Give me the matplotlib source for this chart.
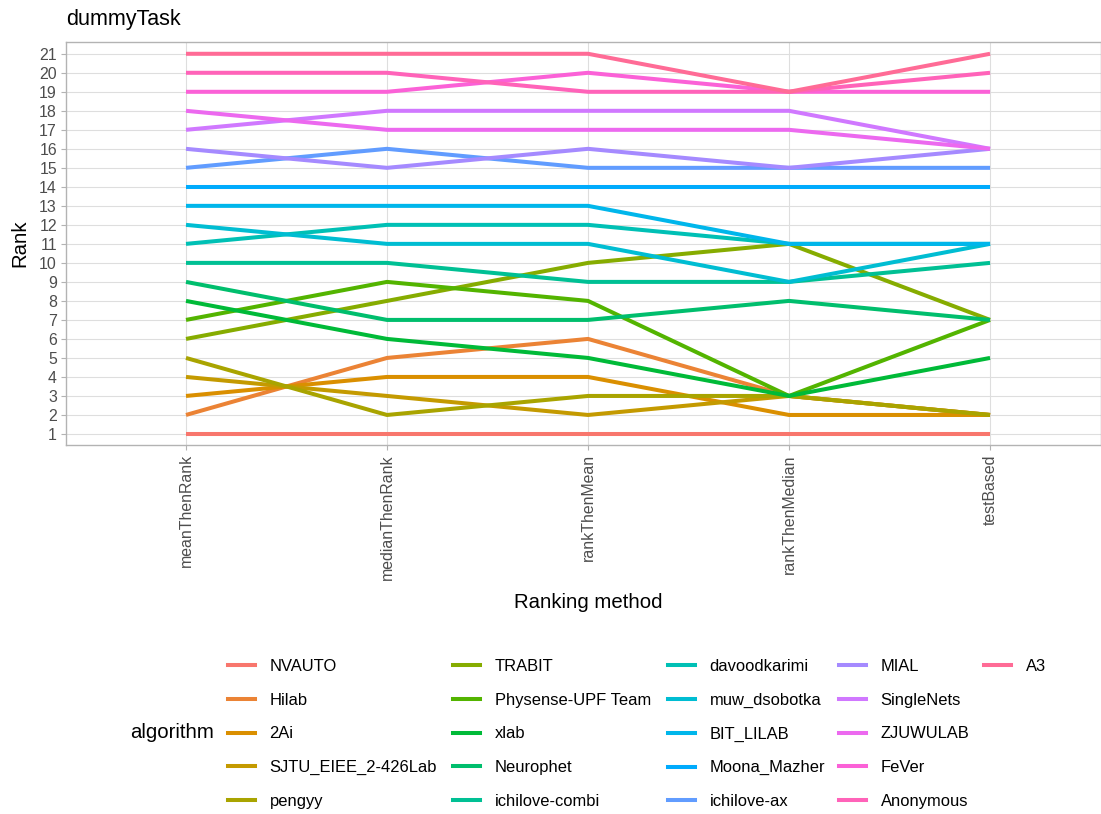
import numpy as np
import matplotlib
matplotlib.use("Agg")
import matplotlib.pyplot as plt
from matplotlib.lines import Line2D

plt.rcParams["font.family"] = ["Liberation Sans", "DejaVu Sans"]

# ---- data -----------------------------------------------------------------
methods = ["meanThenRank", "medianThenRank", "rankThenMean",
           "rankThenMedian", "testBased"]

algorithms = ["NVAUTO", "Hilab", "2Ai", "SJTU_EIEE_2-426Lab", "pengyy",
              "TRABIT", "Physense-UPF Team", "xlab", "Neurophet",
              "ichilove-combi", "davoodkarimi", "muw_dsobotka", "BIT_LILAB",
              "Moona_Mazher", "ichilove-ax", "MIAL", "SingleNets",
              "ZJUWULAB", "FeVer", "Anonymous", "A3"]

# rank of each algorithm (same order as `algorithms`) under each method
rank_meanThenRank   = [1, 2, 3, 4, 5, 6, 7, 8, 9, 10, 11, 12, 13, 14, 15, 16, 17, 18, 19, 20, 21]
rank_medianThenRank = [1, 5, 4, 3, 2, 8, 9, 6, 7, 10, 12, 11, 13, 14, 16, 15, 18, 17, 19, 20, 21]
rank_rankThenMean   = [1, 6, 4, 2, 3, 10, 8, 5, 7, 9, 12, 11, 13, 14, 15, 16, 18, 17, 20, 19, 21]
rank_rankThenMedian = [1, 3, 2, 3, 3, 11, 3, 3, 8, 9, 11, 9, 11, 14, 15, 15, 18, 17, 19, 19, 19]
rank_testBased      = [1, 2, 2, 2, 2, 7, 7, 5, 7, 10, 11, 11, 11, 14, 15, 16, 16, 16, 19, 20, 21]

rank_ticks = list(range(1, 22))


# ---- ggplot-like hue palette (HCL, l=65, c=100) ----------------------------
def hcl_to_hex(h, c=100.0, l=65.0):
    Xn, Yn, Zn = 95.047, 100.0, 108.883
    hr = np.deg2rad(h)
    u, v = c * np.cos(hr), c * np.sin(hr)
    Y = Yn * ((l + 16.0) / 116.0) ** 3
    den = Xn + 15 * Yn + 3 * Zn
    un, vn = 4 * Xn / den, 9 * Yn / den
    up, vp = u / (13 * l) + un, v / (13 * l) + vn
    X = 9.0 * Y * up / (4 * vp)
    Z = Y * (12 - 3 * up - 20 * vp) / (4 * vp)
    X, Y, Z = X / 100, Y / 100, Z / 100
    r = 3.240479 * X - 1.537150 * Y - 0.498535 * Z
    g = -0.969256 * X + 1.875992 * Y + 0.041556 * Z
    b = 0.055648 * X - 0.204043 * Y + 1.057311 * Z

    def gam(t):
        t = 12.92 * t if t <= 0.0031308 else 1.055 * t ** (1 / 2.4) - 0.055
        return min(max(t, 0.0), 1.0)

    return "#%02X%02X%02X" % tuple(int(round(gam(t) * 255)) for t in (r, g, b))


n = len(algorithms)
hues = np.linspace(15, 375, n + 1)[:n] % 360
colors = [hcl_to_hex(h) for h in hues]

# ---- figure ---------------------------------------------------------------
W, H = 1101, 814
fig = plt.figure(figsize=(W / 100, H / 100), dpi=100)

left, right, top, bottom = 66, 1101, 42, 445
ax = fig.add_axes([left / W, 1 - bottom / H, (right - left) / W, (bottom - top) / H])

ranks = np.array([rank_meanThenRank, rank_medianThenRank, rank_rankThenMean,
                  rank_rankThenMedian, rank_testBased])
xpos = np.arange(len(methods))
LW = 2.9

for i, name in enumerate(algorithms):
    ax.plot(xpos, ranks[:, i], color=colors[i], lw=LW,
            solid_joinstyle="round", solid_capstyle="butt", zorder=3)

ax.set_xlim(-0.597, 4.552)
ax.set_ylim(0.42, 21.62)
ax.set_xticks(xpos)
ax.set_xticklabels(methods, rotation=90, ha="center", va="top")
ax.set_yticks(rank_ticks)
ax.set_yticklabels([str(t) for t in rank_ticks])

ax.grid(True, color="#DEDEDE", lw=0.8, zorder=0)
ax.set_axisbelow(True)
for s in ax.spines.values():
    s.set_color("#B3B3B3")
    s.set_linewidth(1.0)
ax.tick_params(axis="both", colors="#B3B3B3", labelcolor="#4D4D4D",
               labelsize=11.4, length=3.5, width=0.8, pad=3)

fig.text(left / W, 1 - 19 / H, "dummyTask", fontsize=15.5, ha="left", va="center")
fig.text(20 / W, 1 - 243 / H, "Rank", fontsize=14.7, rotation=90,
         ha="center", va="center")
fig.text(588 / W, 1 - 603 / H, "Ranking method", fontsize=14.7,
         ha="center", va="center")

# ---- legend: five rows, filled column by column ----------------------------
rows = 5
col_x = [228, 453, 668, 839, 984]
for c, x0 in enumerate(col_x):
    idx = list(range(c * rows, min((c + 1) * rows, n)))
    handles = [Line2D([0], [0], color=colors[i], lw=LW) for i in idx]
    labels = [algorithms[i] for i in idx]
    fig.legend(handles, labels, ncol=1, loc="upper left",
               bbox_to_anchor=(x0 / W, 1 - 659 / H), frameon=False,
               fontsize=11.9, handlelength=1.75 * 11.3 / 11.9,
               handletextpad=0.85, labelspacing=1.13, borderpad=0,
               borderaxespad=0)
fig.text(130 / W, 1 - 733 / H, "algorithm", fontsize=14.7, ha="left", va="center")

fig.savefig("out.png", dpi=100)
